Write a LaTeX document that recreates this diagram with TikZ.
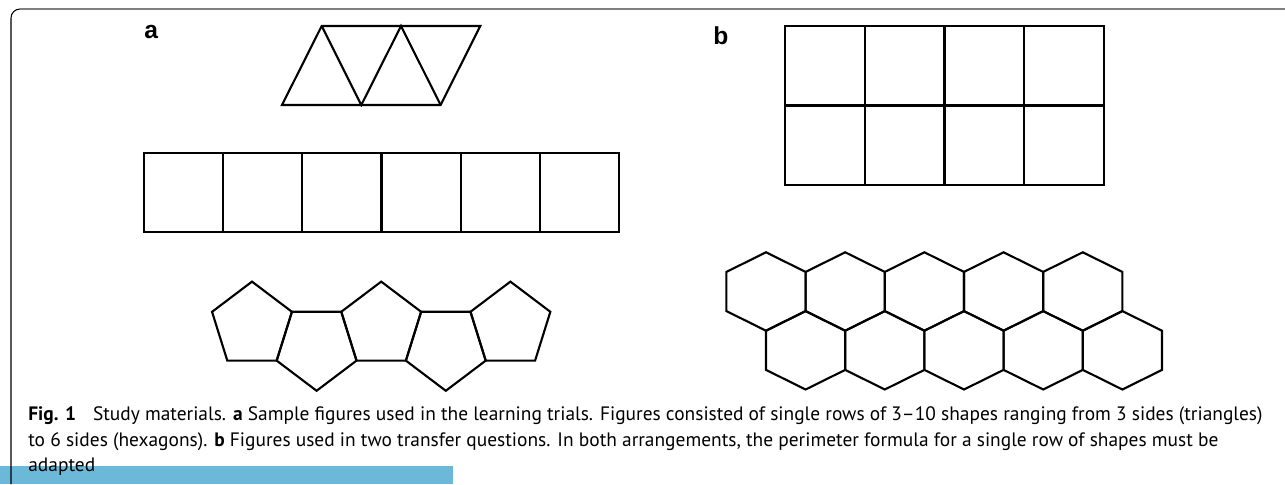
\documentclass[tikz,border=0pt]{standalone}
\usepackage{fontspec}
\usepackage{xcolor}
\newfontfamily\labelfont{Liberation Sans}
\newfontfamily\captionfont{PT Sans}
\definecolor{framegray}{RGB}{128, 128, 128}
\definecolor{barblue}{RGB}{108, 184, 216}

\begin{document}
\begin{tikzpicture}[x=0.02cm, y=0.02cm,
    outline/.style={line width=1.2pt, line join=miter},
    panel/.style={font=\labelfont\bfseries\fontsize{14}{16}\selectfont, anchor=base west, inner sep=0pt},
    capline/.style={font=\captionfont\fontsize{11.05}{14}\selectfont, anchor=base west, inner sep=0pt}]
    \useasboundingbox (0, 0) rectangle (1285, 484);

    % Frame and bar
    \fill[barblue] (0, 0) rectangle (453, 18);
    \draw[line width=0.6pt] (11, 0) -- (11, 466) arc (180:90:9);
    \draw[framegray, line width=1.1pt] (20, 475) -- (1285, 475);

    % Panel labels
    \node[panel] (lbla) at (144, 445) {a};
    \node[panel] (lblb) at (713, 439) {b};

    % Triangles
    \draw[outline] (282, 379) -- (440.6, 379) -- (480.3, 458) -- (321.7, 458) -- cycle;
    \draw[outline] (321.7, 458) -- (361.3, 379) -- (401, 458) -- (440.6, 379);

    % Row of squares
    \draw[outline] (144, 252) rectangle (619, 331);
    \foreach \x in {223.2, 302.3, 381.5, 460.7, 539.8}
        \draw[outline] (\x, 252) -- (\x, 331);

    % Grid of squares
    \draw[outline] (785, 299) rectangle (1104, 458);
    \draw[outline] (785, 378.5) -- (1104, 378.5);
    \foreach \x in {864.75, 944.5, 1024.25}
        \draw[outline] (\x, 299) -- (\x, 458);

    % Pentagons, up and down in turn
    \foreach \i in {0,...,4} {
        \pgfmathsetmacro{\cx}{252 + 64.6*\i}
        \pgfmathsetmacro{\cy}{isodd(\i) ? 136.9 : 158.7}
        \pgfmathsetmacro{\rot}{isodd(\i) ? 270 : 90}
        \draw[outline, shift={(\cx, \cy)}, yscale=1.04]
            (\rot:42) -- (\rot+72:42) -- (\rot+144:42) -- (\rot+216:42) -- (\rot+288:42) -- cycle;
    }

    % Hexagons, two rows
    \foreach \i in {0,...,4} {
        \draw[outline, shift={(766 + 79.2*\i, 192.5)}, xscale=1.166]
            (90:39.2) -- (30:39.2) -- (-30:39.2) -- (-90:39.2) -- (-150:39.2) -- (150:39.2) -- cycle;
        \draw[outline, shift={(805.6 + 79.2*\i, 133.7)}, xscale=1.166]
            (90:39.2) -- (30:39.2) -- (-30:39.2) -- (-90:39.2) -- (-150:39.2) -- (150:39.2) -- cycle;
    }

    % Caption
    \node[capline] (cap1) at (28, 64) {\textbf{Fig. 1}\hspace{0.6em} Study materials. \textbf{a} Sample figures used in the learning trials. Figures consisted of single rows of 3–10 shapes ranging from 3 sides (triangles)};
    \node[capline] (cap2) at (28, 37.3) {to 6 sides (hexagons). \textbf{b} Figures used in two transfer questions. In both arrangements, the perimeter formula for a single row of shapes must be};
    \node[capline] (cap3) at (28, 12.3) {adapted};
\end{tikzpicture}
\end{document}
